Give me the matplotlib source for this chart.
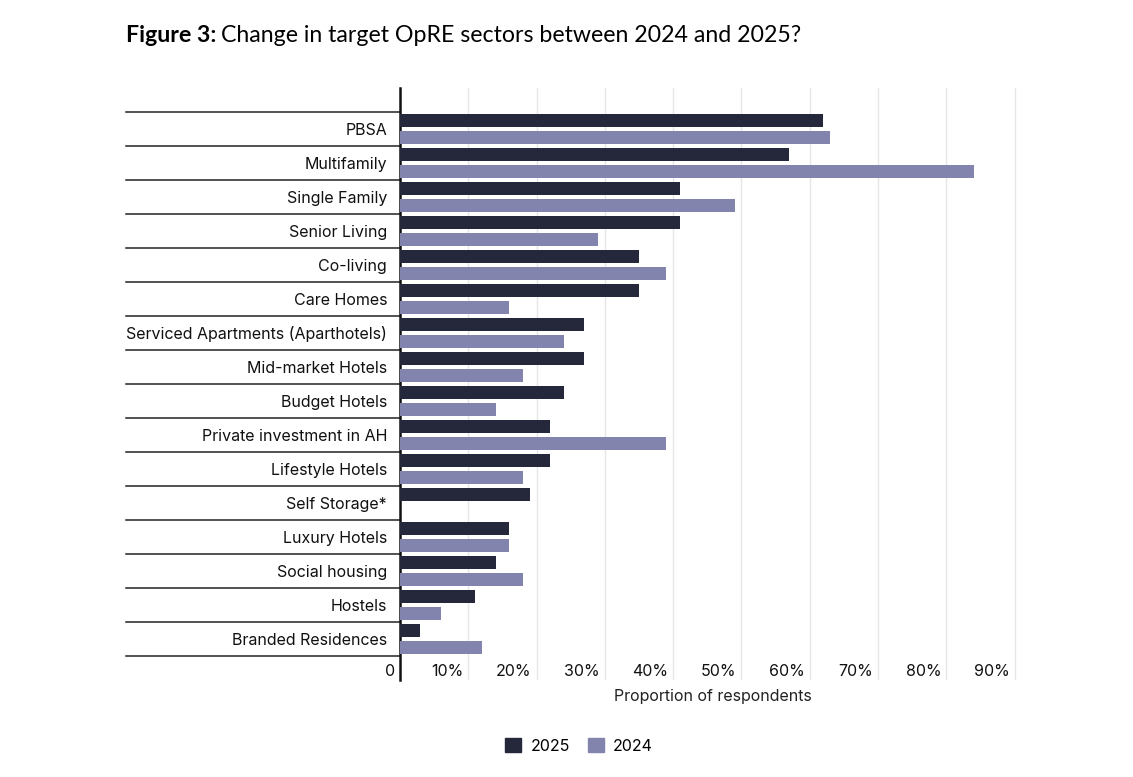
import numpy as np
import matplotlib.pyplot as plt
from matplotlib.patches import Patch
from matplotlib.transforms import blended_transform_factory, ScaledTranslation

plt.rcParams['font.family'] = ['Inter', 'DejaVu Sans']

# Sectors, top to bottom
sectors = ['PBSA', 'Multifamily', 'Single Family', 'Senior Living', 'Co-living',
           'Care Homes', 'Serviced Apartments (Aparthotels)', 'Mid-market Hotels',
           'Budget Hotels', 'Private investment in AH', 'Lifestyle Hotels',
           'Self Storage*', 'Luxury Hotels', 'Social housing', 'Hostels',
           'Branded Residences']
# share of respondents (%)
v2025 = [62, 57, 41, 41, 35, 35, 27, 27, 24, 22, 22, 19, 16, 14, 11, 3]
v2024 = [63, 84, 49, 29, 39, 16, 24, 18, 14, 39, 18, np.nan, 16, 18, 6, 12]

xticks = [0, 10, 20, 30, 40, 50, 60, 70, 80, 90]
xticklabels = ['0', '10%', '20%', '30%', '40%', '50%', '60%', '70%', '80%', '90%']

c2025 = '#25273a'
c2024 = '#8284ae'

W, H = 1133, 777
fig = plt.figure(figsize=(W / 100, H / 100), dpi=100)
ax = fig.add_axes([400 / W, 1 - 680 / H, 618 / W, 592 / H])

y = np.arange(len(sectors))
ax.barh(y - 0.245, v2025, height=0.39, color=c2025, label='2025', zorder=3)
ax.barh(y + 0.245, v2024, height=0.39, color=c2024, label='2024', zorder=3)

ax.set_xlim(0, 90.5)
ax.set_ylim(len(sectors) - 0.5 + 0.706, -0.5 - 0.706)

for s in ['top', 'right', 'bottom']:
    ax.spines[s].set_visible(False)
ax.spines['left'].set_linewidth(1.8)
ax.spines['left'].set_color('#111111')

ax.set_yticks([])
ax.set_xticks(xticks)
ax.set_xticklabels(xticklabels, fontsize=11.5, color='#111111')
ax.tick_params(axis='x', length=0, pad=-11.5)
off = ScaledTranslation(-5 / 100, 0, fig.dpi_scale_trans)
for lab in ax.get_xticklabels():
    lab.set_ha('right')
    lab.set_transform(lab.get_transform() + off)
ax.grid(axis='x', color='#e6e6e6', linewidth=1, zorder=0)
ax.set_axisbelow(True)

# row separators and category labels left of the axis
tr = blended_transform_factory(fig.transFigure, ax.transData)
for k in range(len(sectors) + 1):
    ax.plot([126 / W, 400 / W], [k - 0.5, k - 0.5], transform=tr, color='#222222',
            linewidth=1.1, clip_on=False)
for i, name in enumerate(sectors):
    ax.text(387 / W, i + 0.04, name, transform=tr, ha='right', va='center', fontsize=11.5,
            color='#111111')

fig.text(713 / W, 1 - 696 / H, 'Proportion of respondents', ha='center', va='center',
         fontsize=11.5, color='#222222')

# title: bold prefix followed by regular text
t1 = fig.text(126 / W, 1 - 35 / H, 'Figure 3:', fontsize=16.7, fontweight='bold',
              ha='left', va='center', color='#000000', family=['Lato', 'DejaVu Sans'])
fig.canvas.draw()
bb = t1.get_window_extent()
fig.text((bb.x1 + 5) / W, 1 - 35 / H, 'Change in target OpRE sectors between 2024 and 2025?',
         fontsize=16.7, ha='left', va='center', color='#000000',
         family=['Lato', 'DejaVu Sans'])

handles = [Patch(color=c2025, label='2025'), Patch(color=c2024, label='2024')]
fig.legend(handles=handles, loc='center', bbox_to_anchor=(579 / W, 1 - 746 / H), ncol=2,
           frameon=False, fontsize=11.5, handlelength=1.0, handleheight=1.0,
           handletextpad=0.6, columnspacing=1.1)

fig.savefig('out.png', dpi=100)
